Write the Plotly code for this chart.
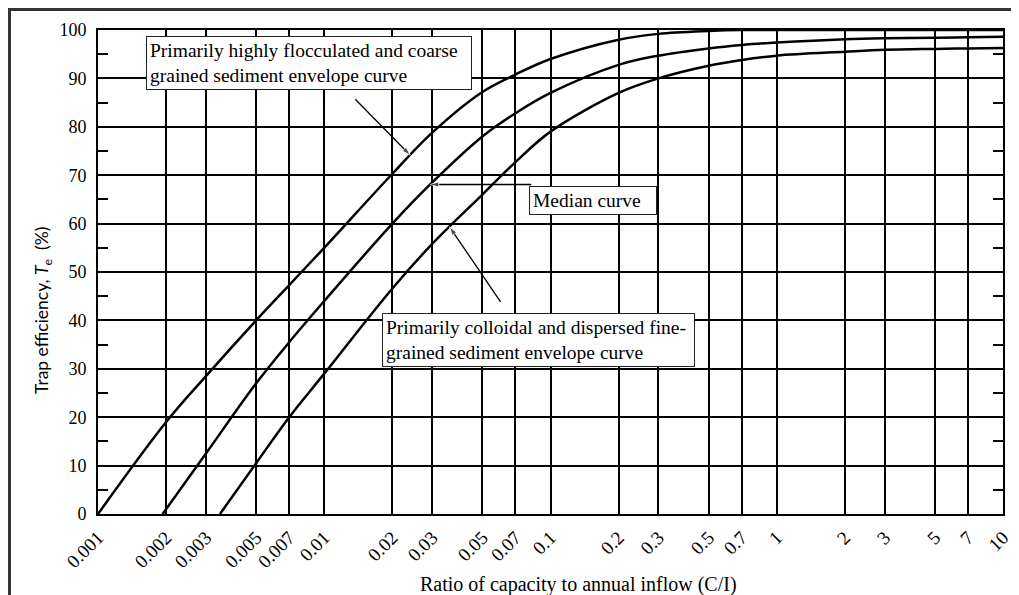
import numpy as np
import plotly.graph_objects as go

# ---------------- data ----------------
x_ticks = [0.001, 0.002, 0.003, 0.005, 0.007, 0.01, 0.02, 0.03, 0.05, 0.07,
           0.1, 0.2, 0.3, 0.5, 0.7, 1, 2, 3, 5, 7, 10]
x_ticktext = ["0.001", "0.002", "0.003", "0.005", "0.007", "0.01", "0.02", "0.03",
              "0.05", "0.07", "0.1", "0.2", "0.3", "0.5", "0.7", "1", "2", "3",
              "5", "7", "10"]
y_ticks = [0, 10, 20, 30, 40, 50, 60, 70, 80, 90, 100]
y_minor = [5, 15, 25, 35, 45, 55, 65, 75, 85, 95]

coarse_x = [0.001, 0.002, 0.003, 0.005, 0.007, 0.01, 0.02, 0.03, 0.05,
            0.07, 0.1, 0.2, 0.3, 0.5, 0.7, 1, 2, 5, 10]
coarse_T = [0, 19, 28.5, 40, 47.3, 55, 70.3, 78.8, 87.2,
            90.8, 94, 98, 99.2, 99.8, 100, 100, 100, 100, 100]

median_x = [0.00193, 0.003, 0.005, 0.007, 0.01, 0.02, 0.03, 0.05, 0.07,
            0.1, 0.2, 0.3, 0.5, 0.7, 1, 2, 3, 5, 7, 10]
median_T = [0, 12.5, 27, 35.5, 44, 60, 68.5, 78, 82.8,
            87, 92.8, 94.7, 96.2, 96.9, 97.4, 98.1, 98.3, 98.4, 98.5, 98.6]

fine_x = [0.00346, 0.005, 0.007, 0.01, 0.02, 0.03, 0.05, 0.07, 0.1, 0.2,
          0.3, 0.5, 0.7, 1, 2, 3, 5, 7, 10]
fine_T = [0, 10.5, 20, 29, 46.6, 55.8, 66, 72.7, 79, 87,
          90, 92.6, 93.8, 94.7, 95.5, 95.9, 96.1, 96.2, 96.3]

label_coarse = "Primarily highly flocculated and coarse<br>grained sediment envelope curve"
label_median = "Median curve"
label_fine = "Primarily colloidal and dispersed fine-<br>grained sediment envelope curve"
x_title = "Ratio of capacity to annual inflow (C/I)"
y_title = "Trap efficiency, <i>T</i><sub>e</sub>  (%)"

# ---------------- geometry ----------------
SERIF = "Liberation Serif, Times New Roman, serif"
SANS = "Lato, Liberation Sans, sans-serif"
BODY = 8                     # default page margin of the html body
W, H = 1019 - BODY, 595 - BODY
PL, PT, PR, PB = 98, 30, 1003, 514   # plot area in page pixels
L, T = PL - BODY, PT - BODY
R, B = (W + BODY) - PR, (H + BODY) - PB
pw, ph = PR - PL, PB - PT
XMIN, XMAX, YMIN, YMAX = -3, 1, 0, 100


def px2paper(px, py):
    return (px - PL) / pw, (PB - py) / ph


def data2px(x, y):
    return (PL + pw * (np.log10(x) - XMIN) / (XMAX - XMIN),
            PB - ph * (y - YMIN) / (YMAX - YMIN))


def px2data(px, py):
    return (10 ** (XMIN + (XMAX - XMIN) * (px - PL) / pw),
            YMIN + (YMAX - YMIN) * (PB - py) / ph)


fig = go.Figure()
for xs, ys in [(coarse_x, coarse_T), (median_x, median_T), (fine_x, fine_T)]:
    fig.add_trace(go.Scatter(x=xs, y=ys, mode="lines",
                             line=dict(color="black", width=2.5, shape="spline", smoothing=1.0),
                             showlegend=False, hoverinfo="skip"))

# arrows: head on the curve, tail offset in pixels
arrows = [
    (coarse_x, coarse_T, 0.024, -55, -56),
    (median_x, median_T, 0.0294, 101, 0),
    (fine_x, fine_T, 0.0358, 51, 75),
]
for xs, ys, xh, dx, dy in arrows:
    yh = float(np.interp(np.log10(xh), np.log10(xs), ys))
    hx, hy = data2px(xh, yh)
    tx, ty = px2data(hx + dx, hy + dy)
    fig.add_trace(go.Scatter(x=[tx, xh], y=[ty, yh], mode="lines+markers",
                             line=dict(color="black", width=1.3),
                             marker=dict(symbol=["circle", "arrow"], size=[0, 9],
                                         angleref="previous", color="black"),
                             showlegend=False, hoverinfo="skip", cliponaxis=False))

fig.update_layout(
    width=W, height=H,
    margin=dict(l=L, r=R, t=T, b=B),
    paper_bgcolor="white", plot_bgcolor="white",
    font=dict(family=SERIF, color="black"),
)
fig.update_xaxes(
    type="log", range=[XMIN, XMAX], tickvals=x_ticks, ticktext=x_ticktext,
    tickangle=-45, tickfont=dict(size=19, family=SERIF), ticklabelstandoff=3,
    showgrid=True, gridcolor="black", gridwidth=1.5,
    showline=True, linecolor="black", linewidth=2, mirror=True,
    ticks="", zeroline=False, automargin=False,
)
fig.update_yaxes(
    range=[YMIN, YMAX], tickvals=y_ticks, tickfont=dict(size=18, family=SERIF),
    showgrid=True, gridcolor="black", gridwidth=1.5,
    showline=True, linecolor="black", linewidth=2, mirror="allticks",
    ticks="", zeroline=False, automargin=False, ticklabelstandoff=6,
    minor=dict(tickvals=y_minor, ticks="inside", ticklen=10, tickwidth=2,
               tickcolor="black", showgrid=False),
)

# axis titles
xt, yt = px2paper(578, 584)
fig.add_annotation(text=x_title, xref="paper", yref="paper", x=xt, y=yt,
                   xanchor="center", yanchor="middle",
                   showarrow=False, font=dict(size=20, family=SERIF))
xt, yt = px2paper(43, 311)
fig.add_annotation(text=y_title, xref="paper", yref="paper", x=xt, y=yt,
                   xanchor="center", yanchor="middle",
                   showarrow=False, textangle=-90, font=dict(size=17.5, family=SANS))

# label boxes (page pixel left, top, width)
boxes = [
    (label_coarse, 146, 36, 326),
    (label_median, 529, 186, 128),
    (label_fine, 382, 313, 313),
]
for txt, bx, by, bw in boxes:
    xp, yp = px2paper(bx, by)
    fig.add_annotation(text=txt, xref="paper", yref="paper", x=xp, y=yp,
                       xanchor="left", yanchor="top", align="left",
                       showarrow=False, width=bw - 8,
                       bgcolor="white", bordercolor="#222", borderwidth=1, borderpad=3,
                       font=dict(size=19.5, family=SERIF))

# outer frame
x0, y0 = px2paper(9.5, 9.5)
x1, y1 = px2paper(1030, 610)
fig.add_shape(type="rect", xref="paper", yref="paper", x0=x0, y0=y1, x1=x1, y1=y0,
              line=dict(color="#333", width=3), layer="above")

fig.write_html("out.html")
